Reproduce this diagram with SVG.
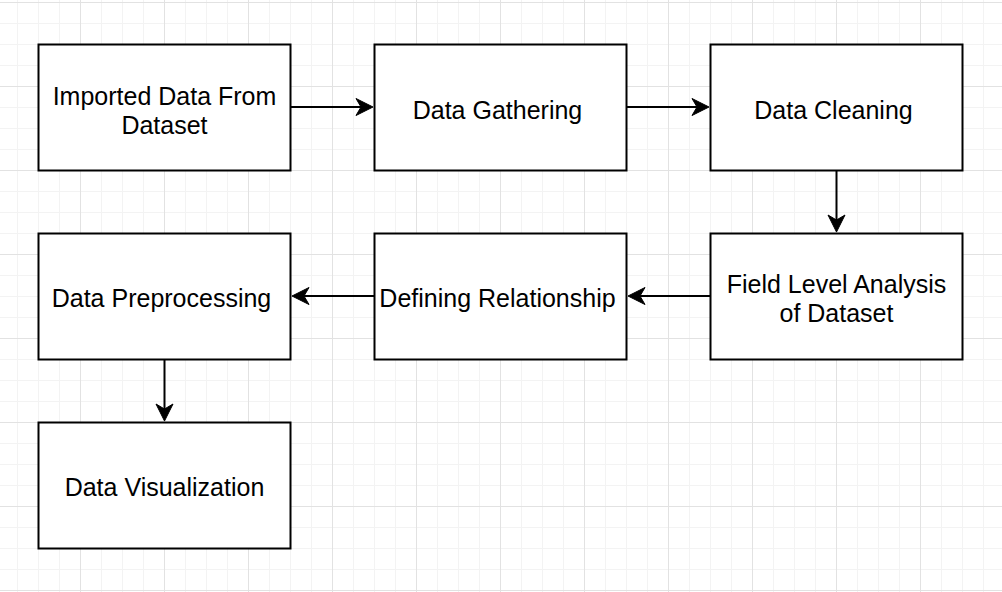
<svg xmlns="http://www.w3.org/2000/svg" width="1002" height="592" viewBox="0 0 1002 592">
<defs>
<pattern id="minor" x="-4" y="2" width="21" height="21" patternUnits="userSpaceOnUse">
<path d="M0,0.5 H21 M0.5,0 V21" fill="none" stroke="#f3f3f3" stroke-width="1"/>
</pattern>
<pattern id="major" x="-4" y="2" width="84" height="84" patternUnits="userSpaceOnUse">
<path d="M0,0.5 H84 M0.5,0 V84" fill="none" stroke="#e2e2e2" stroke-width="1"/>
</pattern>
<style>
.box{fill:#fff;stroke:#000;stroke-width:2}
.lbl{font-family:"Liberation Sans",Arial,sans-serif;font-size:25px;fill:#000;text-anchor:middle}
.ln{fill:none;stroke:#000;stroke-width:2}
.ah{fill:#000;stroke:#000;stroke-width:1}
</style>
</defs>
<rect width="1002" height="592" fill="#fff"/>
<rect width="1002" height="592" fill="url(#minor)"/>
<rect width="1002" height="592" fill="url(#major)"/>
<g id="connectors">
<path class="ln" d="M291,107 H362"/>
<path class="ah" d="M373,107 L356,98.5 L361,107 L356,115.5 Z"/>
<path class="ln" d="M627,107 H698"/>
<path class="ah" d="M709,107 L692,98.5 L697,107 L692,115.5 Z"/>
<path class="ln" d="M836.5,170 V221"/>
<path class="ah" d="M836.5,232 L828,215 L836.5,220 L845,215 Z"/>
<path class="ln" d="M710,296 H639"/>
<path class="ah" d="M628,296 L645,287.5 L640,296 L645,304.5 Z"/>
<path class="ln" d="M374,296 H303"/>
<path class="ah" d="M292,296 L309,287.5 L304,296 L309,304.5 Z"/>
<path class="ln" d="M164.5,359 V410"/>
<path class="ah" d="M164.5,421 L156,404 L164.5,409 L173,404 Z"/>
</g>
<g id="n1"><rect class="box" x="38.5" y="44.5" width="252" height="126"/>
<text class="lbl" x="164.5" y="104.5">Imported Data From</text><text class="lbl" x="164.5" y="133.5">Dataset</text></g>
<g id="n2"><rect class="box" x="374.5" y="44.5" width="252" height="126"/>
<text class="lbl" x="497.5" y="119">Data Gathering</text></g>
<g id="n3"><rect class="box" x="710.5" y="44.5" width="252" height="126"/>
<text class="lbl" x="833.5" y="119">Data Cleaning</text></g>
<g id="n4"><rect class="box" x="710.5" y="233.5" width="252" height="126"/>
<text class="lbl" x="836.5" y="292.5">Field Level Analysis</text><text class="lbl" x="836.5" y="321.5">of Dataset</text></g>
<g id="n5"><rect class="box" x="374.5" y="233.5" width="252" height="126"/>
<text class="lbl" x="497.5" y="307">Defining Relationship</text></g>
<g id="n6"><rect class="box" x="38.5" y="233.5" width="252" height="126"/>
<text class="lbl" x="161.5" y="307">Data Preprocessing</text></g>
<g id="n7"><rect class="box" x="38.5" y="422.5" width="252" height="126"/>
<text class="lbl" x="164.5" y="496">Data Visualization</text></g>
</svg>
